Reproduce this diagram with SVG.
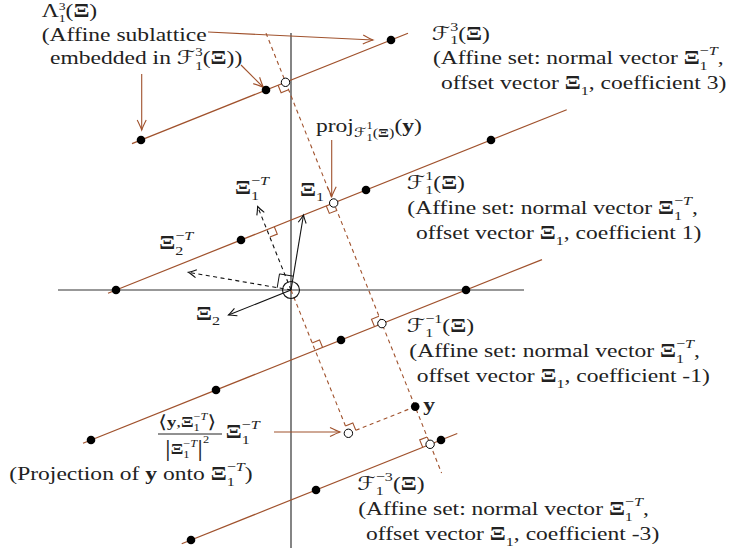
<svg xmlns="http://www.w3.org/2000/svg" width="734" height="554" viewBox="0 0 734 554">
<style>
.ax{stroke:#333;stroke-width:1.2;fill:none}
.fl{stroke:#a0522d;stroke-width:1.2;fill:none}
.fd{stroke:#a0522d;stroke-width:1.1;fill:none;stroke-dasharray:4 3.5}
.ra{stroke:#a0522d;stroke-width:1.1;fill:none}
.ann{stroke:#a0522d;stroke-width:1.1;fill:none;marker-end:url(#ahb)}
.vec{stroke:#111;stroke-width:1.1;fill:none;marker-end:url(#ahk)}
.vecd{stroke:#111;stroke-width:1.1;fill:none;stroke-dasharray:4 3.5;marker-end:url(#ahk)}
.dot{fill:#000}
.oc{fill:#fff;stroke:#000;stroke-width:1}
.t{font-family:"Liberation Serif","DejaVu Serif",serif;font-size:19px;fill:#222}
.s{font-size:13px}
.s12{font-size:12px}
.s11{font-size:11px}
.xs{font-size:10px}
.b{font-weight:bold}
.i{font-style:italic}
.cal{font-family:"DejaVu Serif","DejaVu Sans",serif;font-style:italic}
</style>
<defs>
<marker id="ahb" viewBox="-11 -6 13 12" refX="0" refY="0" markerWidth="13" markerHeight="12" markerUnits="userSpaceOnUse" orient="auto">
<path d="M-10,-4.5 Q-3,-1 0,0 Q-3,1 -10,4.5" fill="none" stroke="#a0522d" stroke-width="1.1"/>
</marker>
<marker id="ahk" viewBox="-11 -6 13 12" refX="0" refY="0" markerWidth="13" markerHeight="12" markerUnits="userSpaceOnUse" orient="auto">
<path d="M-8,-4 Q-2.5,-1 0,0 Q-2.5,1 -8,4" fill="none" stroke="#111" stroke-width="1.1"/>
</marker>
</defs>
<rect width="734" height="554" fill="#fff"/>
<g id="axes">
<line class="ax" x1="58" y1="290" x2="524" y2="290"/>
<line class="ax" x1="291" y1="33" x2="291" y2="548"/>
</g>
<g id="connectors">
<line class="fl" x1="132" y1="143.6" x2="408" y2="33.2"/>
<line class="fl" x1="108" y1="293.2" x2="566.7" y2="109.7"/>
<line class="fl" x1="83" y1="443.2" x2="542" y2="259.6"/>
<line class="fl" x1="181.7" y1="543.7" x2="457.3" y2="433.5"/>
<line class="fd" x1="266" y1="33.1" x2="441.6" y2="473"/>
<line class="fd" x1="291" y1="290" x2="348.4" y2="433.3"/>
<line class="fd" x1="415.2" y1="406.6" x2="348.4" y2="433.3"/>
<polyline class="ra" points="274.3,226.7 277.3,234.1 269.9,237.1"/>
<polyline class="ra" points="322.5,347.3 319.5,339.9 312.1,342.9"/>
<polyline class="ra" points="278.1,85.3 281.1,92.7 288.5,89.7"/>
<polyline class="ra" points="326.3,206 329.3,213.4 336.7,210.4"/>
<polyline class="ra" points="374.5,326.6 371.5,319.2 378.9,316.2"/>
<polyline class="ra" points="422.7,447.3 419.7,439.9 427.1,436.9"/>
<polyline class="ra" points="355.8,430.3 352.8,422.9 345.4,425.9"/>
<polyline points="293.3,276.2 279.5,273.9 277.2,287.7" fill="none" stroke="#111" stroke-width="1"/>
<line class="vec" x1="291" y1="290" x2="303.5" y2="215"/>
<line class="vec" x1="291" y1="290" x2="228.5" y2="315"/>
<line class="vecd" x1="291" y1="290" x2="257.6" y2="206.5"/>
<line class="vecd" x1="291" y1="290" x2="188.3" y2="272.3"/>
<line class="ann" x1="208" y1="32" x2="373" y2="40"/>
<line class="ann" x1="241" y1="65" x2="263.5" y2="87.5"/>
<line class="ann" x1="141.7" y1="74" x2="141.7" y2="130"/>
<line class="ann" x1="331.7" y1="140" x2="331.7" y2="196.7"/>
<line class="ann" x1="274" y1="432" x2="340" y2="432"/>
<line x1="158" y1="434" x2="222" y2="434" stroke="#222" stroke-width="1"/>
</g>
<g id="points">
<circle class="dot" cx="141" cy="140" r="4.3"/>
<circle class="dot" cx="266" cy="90" r="4.3"/>
<circle class="dot" cx="391" cy="40" r="4.3"/>
<circle class="dot" cx="116" cy="290" r="4.3"/>
<circle class="dot" cx="241" cy="240" r="4.3"/>
<circle class="dot" cx="366" cy="190" r="4.3"/>
<circle class="dot" cx="491" cy="140" r="4.3"/>
<circle class="dot" cx="91" cy="440" r="4.3"/>
<circle class="dot" cx="216" cy="390" r="4.3"/>
<circle class="dot" cx="341" cy="340" r="4.3"/>
<circle class="dot" cx="466" cy="290" r="4.3"/>
<circle class="dot" cx="191" cy="540" r="4.3"/>
<circle class="dot" cx="316" cy="490" r="4.3"/>
<circle class="dot" cx="441" cy="440" r="4.3"/>
<circle class="dot" cx="415.2" cy="406.6" r="4.3"/>
<circle class="oc" cx="285.5" cy="82.3" r="4.2"/>
<circle class="oc" cx="333.7" cy="203" r="4.2"/>
<circle class="oc" cx="381.9" cy="323.6" r="4.2"/>
<circle class="oc" cx="430.1" cy="444.3" r="4.2"/>
<circle class="oc" cx="348.4" cy="433.3" r="4.2"/>
<circle cx="291" cy="290" r="8.5" fill="none" stroke="#111" stroke-width="1.1"/>
</g>
<g transform="scale(1.24 1)">
<g id="label-lambda">
<text class="t" x="33.6" y="17">Λ<tspan class="s11" y="22">1</tspan><tspan class="s11" dx="-5.5" y="10">3</tspan><tspan y="17">(</tspan><tspan class="b">Ξ</tspan>)</text>
<text class="t" x="33.6" y="41.5">(Affine sublattice</text>
<text class="t" x="40.3" y="64.5">embedded in <tspan class="cal">ℱ</tspan><tspan class="s12" y="70">1</tspan><tspan class="s12" dx="-6" y="56.5">3</tspan><tspan y="64.5">(</tspan><tspan class="b">Ξ</tspan>))</text>
</g>
<g id="label-F3">
<text class="t" x="348.1" y="40.4"><tspan class="cal">ℱ</tspan><tspan class="s" y="44.4">1</tspan><tspan class="s" dx="-6.5" y="31.4">3</tspan><tspan y="40.4">(</tspan><tspan class="b">Ξ</tspan>)</text>
<text class="t" x="349.2" y="64.5">(Affine set: normal vector <tspan class="b">Ξ</tspan><tspan class="s" y="70.5">1</tspan><tspan class="s" dx="-6.5" y="55.5">−<tspan class="i">T</tspan></tspan><tspan y="64.5">,</tspan></text>
<text class="t" x="355.6" y="89">offset vector <tspan class="b">Ξ</tspan><tspan class="s" y="95">1</tspan><tspan y="89">, coefficient 3)</tspan></text>
</g>
<g id="label-F1">
<text class="t" x="328" y="188.7"><tspan class="cal">ℱ</tspan><tspan class="s" y="193.7">1</tspan><tspan class="s" dx="-6.5" y="179.7">1</tspan><tspan y="188.7">(</tspan><tspan class="b">Ξ</tspan>)</text>
<text class="t" x="328.5" y="214.5">(Affine set: normal vector <tspan class="b">Ξ</tspan><tspan class="s" y="220.5">1</tspan><tspan class="s" dx="-6.5" y="205.5">−<tspan class="i">T</tspan></tspan><tspan y="214.5">,</tspan></text>
<text class="t" x="335.5" y="239.5">offset vector <tspan class="b">Ξ</tspan><tspan class="s" y="245.5">1</tspan><tspan y="239.5">, coefficient 1)</tspan></text>
</g>
<g id="label-Fm1">
<text class="t" x="328" y="332"><tspan class="cal">ℱ</tspan><tspan class="s" y="337">1</tspan><tspan class="s" dx="-6.5" y="323">−1</tspan><tspan y="332">(</tspan><tspan class="b">Ξ</tspan>)</text>
<text class="t" x="330.1" y="357.2">(Affine set: normal vector <tspan class="b">Ξ</tspan><tspan class="s" y="363.2">1</tspan><tspan class="s" dx="-6.5" y="348.2">−<tspan class="i">T</tspan></tspan><tspan y="357.2">,</tspan></text>
<text class="t" x="336" y="382.5">offset vector <tspan class="b">Ξ</tspan><tspan class="s" y="388.5">1</tspan><tspan y="382.5">, coefficient -1)</tspan></text>
</g>
<g id="label-Fm3">
<text class="t" x="288.1" y="490"><tspan class="cal">ℱ</tspan><tspan class="s" y="495">1</tspan><tspan class="s" dx="-6.5" y="481">−3</tspan><tspan y="490">(</tspan><tspan class="b">Ξ</tspan>)</text>
<text class="t" x="288.9" y="515">(Affine set: normal vector <tspan class="b">Ξ</tspan><tspan class="s" y="521">1</tspan><tspan class="s" dx="-6.5" y="506">−<tspan class="i">T</tspan></tspan><tspan y="515">,</tspan></text>
<text class="t" x="295.2" y="540">offset vector <tspan class="b">Ξ</tspan><tspan class="s" y="546">1</tspan><tspan y="540">, coefficient -3)</tspan></text>
</g>
<g id="label-y">
<text class="t b" x="341.4" y="411">y</text>
</g>
<g id="label-proj">
<text class="t" x="254.8" y="132">proj<tspan class="s cal" y="137">ℱ</tspan><tspan class="xs" y="141">1</tspan><tspan class="xs" dx="-5" y="129.5">1</tspan><tspan class="s" y="137">(</tspan><tspan class="s b">Ξ</tspan><tspan class="s">)</tspan><tspan y="132">(</tspan><tspan class="b">y</tspan>)</text>
</g>
<g id="label-xi1">
<text class="t" x="241.9" y="196.5"><tspan class="b">Ξ</tspan><tspan class="s" y="201.5">1</tspan></text>
</g>
<g id="label-xi1T">
<text class="t" x="189.5" y="194"><tspan class="b">Ξ</tspan><tspan class="s" y="200">1</tspan><tspan class="s" dx="-6.5" y="185">−<tspan class="i">T</tspan></tspan></text>
</g>
<g id="label-xi2T">
<text class="t" x="128.5" y="249"><tspan class="b">Ξ</tspan><tspan class="s" y="255">2</tspan><tspan class="s" dx="-6.5" y="240">−<tspan class="i">T</tspan></tspan></text>
</g>
<g id="label-xi2">
<text class="t" x="158.1" y="320"><tspan class="b">Ξ</tspan><tspan class="s" y="325">2</tspan></text>
</g>
<g id="label-projection">
<text class="t" x="127.7" y="428" style="font-size:15px"><tspan style="font-size:18px">⟨</tspan><tspan class="b" y="427">y</tspan>,<tspan class="b">Ξ</tspan><tspan class="xs" y="431">1</tspan><tspan class="xs" dx="-5" y="420">−<tspan class="i">T</tspan></tspan><tspan style="font-size:18px" y="428">⟩</tspan></text>
<text class="t" x="133.1" y="456" style="font-size:15px"><tspan style="font-size:23px">|</tspan><tspan class="b" y="454">Ξ</tspan><tspan class="xs" y="458">1</tspan><tspan class="xs" dx="-5" y="447">−<tspan class="i">T</tspan></tspan><tspan style="font-size:23px" y="456">|</tspan><tspan class="xs" y="443">2</tspan></text>
<text class="t" x="182" y="438"><tspan class="b">Ξ</tspan><tspan class="s" y="444">1</tspan><tspan class="s" dx="-6.5" y="429">−<tspan class="i">T</tspan></tspan></text>
<text class="t" x="7.5" y="480">(Projection of <tspan class="b">y</tspan> onto <tspan class="b">Ξ</tspan><tspan class="s" y="486">1</tspan><tspan class="s" dx="-6.5" y="471">−<tspan class="i">T</tspan></tspan><tspan y="480">)</tspan></text>
</g>
</g>
</svg>
